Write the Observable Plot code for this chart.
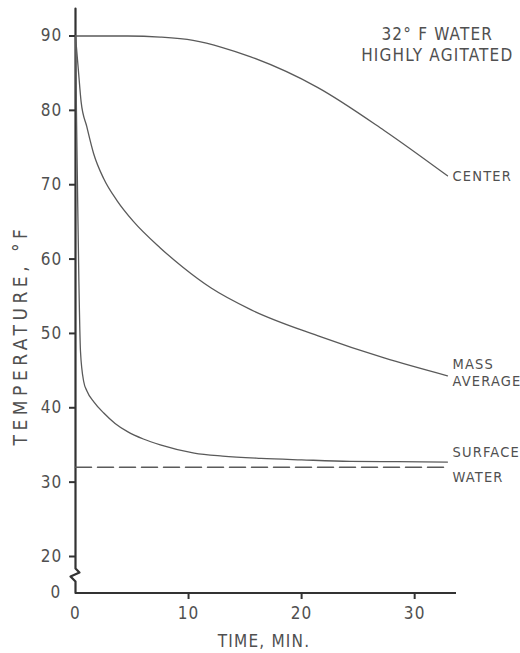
<!DOCTYPE html>
<html><head><meta charset="utf-8">
<script src="https://cdn.jsdelivr.net/npm/d3@7"></script>
<script src="https://cdn.jsdelivr.net/npm/@observablehq/plot@0.6"></script>
<style>body{margin:0;background:#fff}</style>
</head><body><div id="chart"></div>
<script>
// Time (min) and temperature (°F) values
const centerTime = [0, 4.6, 7.5, 10.4, 13, 15.5, 21.4, 27.3, 32.9];
const centerTemp = [90, 90, 89.85, 89.4, 88.45, 87.2, 83.1, 77.3, 71.2];

const massTime = [0, 0.25, 0.5, 1.0, 1.6, 2.5, 3.7, 5.1, 7.5, 9.5, 12, 15.5, 21.4, 27.3, 32.9];
const massTemp = [90, 85.5, 81.1, 77.8, 74.2, 70.8, 67.8, 65.1, 61.5, 58.9, 56.1, 53.2, 49.7, 46.7, 44.3];

const surfaceTime = [0, 0.1, 0.2, 0.3, 0.44, 0.73, 1.0, 1.62, 2.5, 3.5, 4.6, 6, 7.5, 10.5, 13, 16.4, 20, 24.3, 28.5, 32.9];
const surfaceTemp = [90, 78, 67, 57, 47.6, 43.5, 42.3, 40.8, 39.3, 37.9, 36.8, 35.8, 35.0, 33.9, 33.5, 33.2, 33.0, 32.8, 32.75, 32.7];

const waterTime = [0, 32.9];
const waterTemp = [32, 32];

const seriesNames = ["CENTER", "MASS\nAVERAGE", "SURFACE", "WATER"];
const yTicks = [20, 30, 40, 50, 60, 70, 80, 90];
const xTicks = [10, 20, 30];
const titleText = "32° F WATER\nHIGHLY AGITATED";
const xLabel = "TIME, MIN.";
const yLabel = "TEMPERATURE, °F";

// axis line with the scale-break zig-zag near the bottom
const axisBreakTime = [0, 0, 0.35, -0.44, 0, 0];
const axisBreakTemp = [93.7, 13.4, 11.2, 9.0, 6.3, 0];

const rows = (ts, vs, name) => ts.map((t, i) => ({t, temp: vs[i], name}));
const center = rows(centerTime, centerTemp, seriesNames[0]);
const mass = rows(massTime, massTemp, seriesNames[1]);
const surface = rows(surfaceTime, surfaceTemp, seriesNames[2]);
const water = rows(waterTime, waterTemp, seriesNames[3]);
const endOf = s => [s[s.length - 1]];
const axisLine = axisBreakTime.map((t, i) => ({t, temp: axisBreakTemp[i]}));

const font = "'DejaVu Sans Condensed', 'Liberation Sans Narrow', 'DejaVu Sans', sans-serif";
const ink = "#505050";
const lineInk = "#5a5a5a";

const endLabel = (s, dy) => Plot.text(endOf(s), {x: "t", y: "temp", text: "name", textAnchor: "start", dx: 5, dy, lineHeight: 1.2, fontSize: 14.5, fill: ink});

const chart = Plot.plot({
  width: 520,
  height: 653,
  marginLeft: 75,
  marginRight: 64,
  marginTop: 8,
  marginBottom: 60,
  style: {fontFamily: font, fontSize: "17px", color: ink, letterSpacing: "1.2px", background: "#fff", overflow: "visible"},
  x: {domain: [0, 33.7]},
  y: {type: "linear", domain: [0, 20, 90], range: [592.5, 556, 35.5]},
  marks: [
    Plot.ruleY([0], {x1: 0, x2: 33.7, stroke: "#333", strokeWidth: 2}),
    Plot.line(axisLine, {x: "t", y: "temp", stroke: "#333", strokeWidth: 2.2, curve: "linear"}),
    Plot.axisY({ticks: yTicks, tickSize: 6, tickPadding: 7, label: null, stroke: "#333", strokeWidth: 2, fontSize: 17}),
    Plot.axisY({ticks: [0], tickSize: 0, tickPadding: 14, label: null, fontSize: 17}),
    Plot.axisX({ticks: xTicks, tickSize: 6, tickPadding: 7, label: null, stroke: "#333", strokeWidth: 2, fontSize: 17}),
    Plot.axisX({ticks: [0], tickSize: 0, tickPadding: 13, label: null, fontSize: 17}),
    Plot.line(center, {x: "t", y: "temp", stroke: lineInk, strokeWidth: 1.3, curve: "monotone-x"}),
    Plot.line(mass, {x: "t", y: "temp", stroke: lineInk, strokeWidth: 1.3, curve: "monotone-x"}),
    Plot.line(surface, {x: "t", y: "temp", stroke: lineInk, strokeWidth: 1.3, curve: "monotone-x"}),
    Plot.line(water, {x: "t", y: "temp", stroke: lineInk, strokeWidth: 1.5, strokeDasharray: "16,6"}),
    endLabel(center, 0),
    endLabel(mass, -4),
    endLabel(surface, -11),
    endLabel(water, 9),
    Plot.text([titleText], {x: 32.0, y: 90.3, text: d => d, textAnchor: "middle", lineAnchor: "middle", lineHeight: 1.25, dy: 10, fill: ink}),
    Plot.text([xLabel], {frameAnchor: "bottom", text: d => d, textAnchor: "middle", dy: 48, dx: -2, lineAnchor: "middle", fill: ink}),
    Plot.text([yLabel], {frameAnchor: "left", text: d => d, textAnchor: "middle", lineAnchor: "middle", rotate: -90, dx: -55, dy: 34, fill: ink, fontSize: 19})
  ]
});
d3.select(chart).selectAll("text")
  .filter(function() { return this.textContent === yLabel; })
  .style("letter-spacing", "4.5px");
document.getElementById("chart").appendChild(chart);
</script>
</body></html>
